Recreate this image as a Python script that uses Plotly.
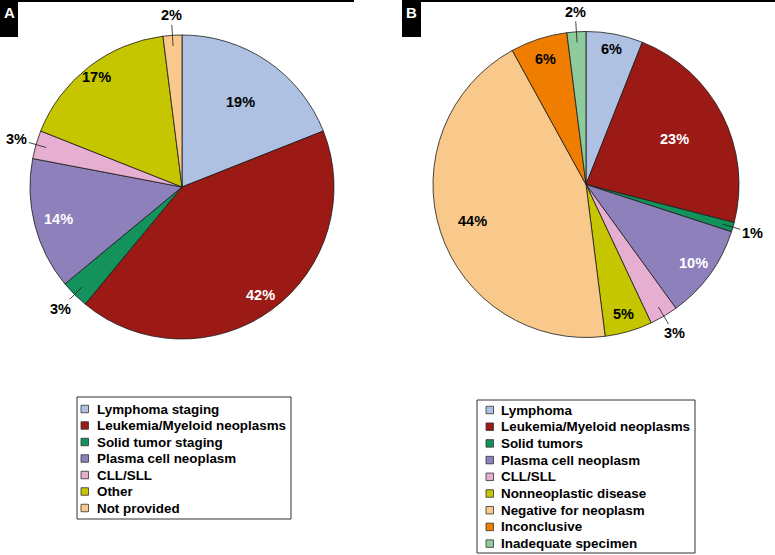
import numpy as np
import plotly.graph_objects as go

W, H = 775, 555
FONT = "Liberation Sans, Arial, sans-serif"

# panel A: reason for referral
labels_a = ["Lymphoma staging", "Leukemia/Myeloid neoplasms", "Solid tumor staging",
            "Plasma cell neoplasm", "CLL/SLL", "Other", "Not provided"]
values_a = [19, 42, 3, 14, 3, 17, 2]
colors_a = ["#aec1e2", "#9c1a16", "#13925c", "#8d80bb", "#e6aed0", "#c5c500", "#f8c98a"]

# panel B: final diagnosis
labels_b = ["Lymphoma", "Leukemia/Myeloid neoplasms", "Solid tumors", "Plasma cell neoplasm",
            "CLL/SLL", "Nonneoplastic disease", "Negative for neoplasm", "Inconclusive",
            "Inadequate specimen"]
values_b = [6, 23, 1, 10, 3, 5, 44, 6, 2]
colors_b = ["#aec1e2", "#9c1a16", "#13925c", "#8d80bb", "#e6aed0", "#c5c500", "#f8c98a",
            "#ee7d00", "#8ecb9c"]

outside_labels = ["Solid tumor staging", "Solid tumors", "CLL/SLL", "Not provided", "Inadequate specimen"]
white_labels = ["Leukemia/Myeloid neoplasms", "Plasma cell neoplasm"]

# how far out (fraction of radius) each inside label sits
label_r_a = [0.68, 0.88, 0, 0.84, 0, 0.92, 0]
label_r_b = [0.9, 0.65, 0, 0.87, 0, 0.88, 0.78, 0.86, 0]

shapes = []
annotations = []


def make_pie(labels, values, colors, label_r, cx, cy, r):
    trace = go.Pie(
        labels=labels, values=values, sort=False, direction="clockwise", rotation=0,
        marker=dict(colors=colors, line=dict(color="#1a1a1a", width=0.8)),
        textinfo="none", showlegend=False, hoverinfo="label+percent",
        domain=dict(x=[(cx - r) / W, (cx + r) / W], y=[1 - (cy + r) / H, 1 - (cy - r) / H]))
    vals = np.array(values, dtype=float)
    mids = 2 * np.pi * (np.cumsum(vals) - vals / 2) / vals.sum()
    for lab, v, t, f in zip(labels, values, mids, label_r):
        font = dict(size=14.5, family=FONT, color="white" if lab in white_labels else "black",
                    weight="bold")
        if lab in outside_labels:
            # leader-line label for the thin slices
            hx = cx + 0.93 * r * np.sin(t)
            hy = cy - 0.93 * r * np.cos(t)
            d = 0.07 * r + 20
            annotations.append(dict(
                x=hx / W, y=1 - hy / H, xref="paper", yref="paper", text=f"{v}%",
                showarrow=True, arrowhead=0, arrowwidth=0.8, arrowcolor="#1a1a1a",
                ax=d * np.sin(t), ay=-d * np.cos(t), standoff=0, font=font))
        else:
            tx = cx + f * r * np.sin(t)
            ty = cy - f * r * np.cos(t)
            annotations.append(dict(x=tx / W, y=1 - ty / H, xref="paper", yref="paper",
                                    xanchor="center", yanchor="middle",
                                    text=f"{v}%", showarrow=False, font=font))
    return trace


def make_legend(labels, colors, box, row0, step, sq_x, txt_x):
    x0, y0, x1, y1 = box
    shapes.append(dict(type="rect", xref="paper", yref="paper", x0=x0 / W, x1=x1 / W,
                       y0=1 - y1 / H, y1=1 - y0 / H, line=dict(color="#333", width=1)))
    for i, (lab, col) in enumerate(zip(labels, colors)):
        y = row0 + i * step
        shapes.append(dict(type="rect", xref="paper", yref="paper",
                           x0=sq_x / W, x1=(sq_x + 7.5) / W,
                           y0=1 - (y + 3.75) / H, y1=1 - (y - 3.75) / H,
                           fillcolor=col, line=dict(color="#333", width=0.8)))
        annotations.append(dict(x=txt_x / W, y=1 - y / H, xref="paper", yref="paper",
                                text=lab, showarrow=False, xanchor="left", yanchor="middle",
                                font=dict(size=13.4, family=FONT, color="black", weight="bold")))


def panel_tag(letter, x0, x1, line_x0, line_x1):
    shapes.append(dict(type="line", xref="paper", yref="paper", x0=line_x0 / W, x1=line_x1 / W,
                       y0=1 - 1 / H, y1=1 - 1 / H, line=dict(color="black", width=2)))
    shapes.append(dict(type="rect", xref="paper", yref="paper", x0=x0 / W, x1=x1 / W,
                       y0=1 - 37 / H, y1=1, fillcolor="black", line=dict(width=0)))
    annotations.append(dict(x=(x0 + x1) / 2 / W, y=1 - 12 / H, xref="paper", yref="paper",
                            xanchor="center", yanchor="middle",
                            text=letter, showarrow=False,
                            font=dict(size=15, family=FONT, color="white", weight="bold")))


fig = go.Figure()
fig.add_trace(make_pie(labels_a, values_a, colors_a, label_r_a, 182, 187, 152))
fig.add_trace(make_pie(labels_b, values_b, colors_b, label_r_b, 586, 184.5, 153))

make_legend(labels_a, colors_a, (77, 397, 291, 519), 409, 16.5, 81, 95)
make_legend(labels_b, colors_b, (477, 400, 695, 553), 410, 16.7, 486, 499)

panel_tag("A", 0, 18, 0, 354)
panel_tag("B", 402, 421, 402, 775)

fig.update_layout(
    width=W, height=H,
    margin=dict(l=0, r=0, t=0, b=0),
    paper_bgcolor="white", plot_bgcolor="white",
    font=dict(family=FONT, size=13, color="black"),
    shapes=shapes, annotations=annotations,
    showlegend=False,
)

fig.write_html("out.html", config={"displayModeBar": False},
               post_script="document.body.style.margin = '0px';")
